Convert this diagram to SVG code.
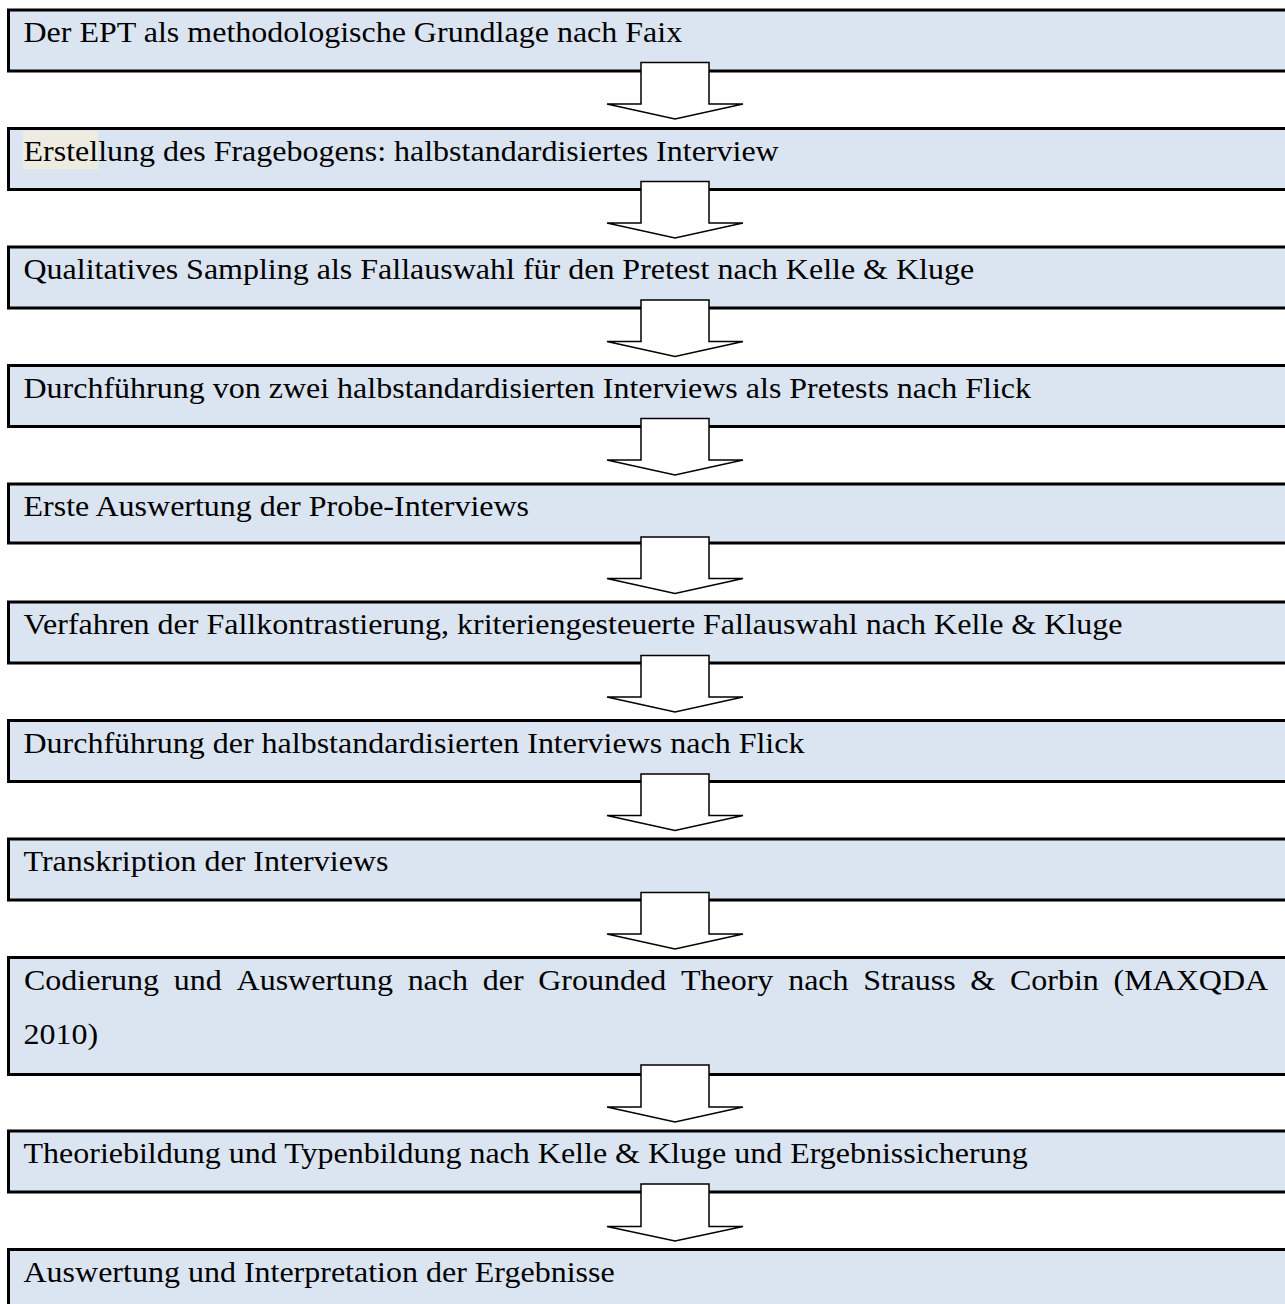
<svg xmlns="http://www.w3.org/2000/svg" width="1285" height="1304" viewBox="0 0 1285 1304">
  <defs>
    <style>
      .box { fill: #DBE5F1; stroke: #000; stroke-width: 3; }
      .arrow { fill: #fff; stroke: #000; stroke-width: 1.5; stroke-linejoin: miter; }
      .lbl { font-family: "Liberation Serif", "Times New Roman", serif; font-size: 29.5px; fill: #000; }
      .mark { fill: #EEECE1; }
    </style>
  </defs>
  <rect x="0" y="0" width="1285" height="1304" fill="#fff"/>

  <!-- process steps; labels are slightly widened with scale(1.085,1) -->
  <g id="step1">
    <rect class="box" x="8.5" y="10" width="1290" height="61"/>
    <text class="lbl" transform="translate(23.5,42) scale(1.085,1)">Der EPT als methodologische Grundlage nach Faix</text>
  </g>
  <g id="step2">
    <rect class="box" x="8.5" y="128.5" width="1290" height="61"/>
    <rect class="mark" x="23" y="131" width="75" height="38"/>
    <text class="lbl" transform="translate(23.5,161) scale(1.085,1)">Erstellung des Fragebogens: halbstandardisiertes Interview</text>
  </g>
  <g id="step3">
    <rect class="box" x="8.5" y="247" width="1290" height="61"/>
    <text class="lbl" transform="translate(23.5,279) scale(1.085,1)">Qualitatives Sampling als Fallauswahl für den Pretest nach Kelle &amp; Kluge</text>
  </g>
  <g id="step4">
    <rect class="box" x="8.5" y="365.5" width="1290" height="61"/>
    <text class="lbl" transform="translate(23.5,397.5) scale(1.085,1)">Durchführung von zwei halbstandardisierten Interviews als Pretests nach Flick</text>
  </g>
  <g id="step5">
    <rect class="box" x="8.5" y="484" width="1290" height="59"/>
    <text class="lbl" transform="translate(23.5,516) scale(1.085,1)">Erste Auswertung der Probe-Interviews</text>
  </g>
  <g id="step6">
    <rect class="box" x="8.5" y="602" width="1290" height="61"/>
    <text class="lbl" transform="translate(23.5,634) scale(1.085,1)">Verfahren der Fallkontrastierung, kriteriengesteuerte Fallauswahl nach Kelle &amp; Kluge</text>
  </g>
  <g id="step7">
    <rect class="box" x="8.5" y="720.5" width="1290" height="61"/>
    <text class="lbl" transform="translate(23.5,752.5) scale(1.085,1)">Durchführung der halbstandardisierten Interviews nach Flick</text>
  </g>
  <g id="step8">
    <rect class="box" x="8.5" y="839" width="1290" height="61"/>
    <text class="lbl" transform="translate(23.5,871) scale(1.085,1)">Transkription der Interviews</text>
  </g>
  <g id="step9">
    <rect class="box" x="8.5" y="957.5" width="1290" height="117"/>
    <!-- justified first line: one tspan per word -->
    <text class="lbl" transform="translate(0,990) scale(1.085,1)">
      <tspan x="22.1">Codierung</tspan>
      <tspan x="160.2">und</tspan>
      <tspan x="218">Auswertung</tspan>
      <tspan x="375.7">nach</tspan>
      <tspan x="444.9">der</tspan>
      <tspan x="496.1">Grounded</tspan>
      <tspan x="627.6">Theory</tspan>
      <tspan x="726.4">nach</tspan>
      <tspan x="795.6">Strauss</tspan>
      <tspan x="894.3">&amp;</tspan>
      <tspan x="930.8">Corbin</tspan>
      <tspan x="1026.3">(MAXQDA</tspan>
    </text>
    <text class="lbl" transform="translate(23.5,1044) scale(1.085,1)">2010)</text>
  </g>
  <g id="step10">
    <rect class="box" x="8.5" y="1131" width="1290" height="61"/>
    <text class="lbl" transform="translate(23.5,1163) scale(1.085,1)">Theoriebildung und Typenbildung nach Kelle &amp; Kluge und Ergebnissicherung</text>
  </g>
  <g id="step11">
    <rect class="box" x="8.5" y="1249.5" width="1290" height="61"/>
    <text class="lbl" transform="translate(23.5,1281.5) scale(1.085,1)">Auswertung und Interpretation der Ergebnisse</text>
  </g>

  <!-- block arrows between steps -->
  <g id="connectors">
    <path class="arrow" d="M641,62.5 H709 V104 H743 L675,119 L607,104 H641 Z"/>
    <path class="arrow" d="M641,181.5 H709 V223 H743 L675,238 L607,223 H641 Z"/>
    <path class="arrow" d="M641,300 H709 V341.5 H743 L675,356.5 L607,341.5 H641 Z"/>
    <path class="arrow" d="M641,418.5 H709 V460 H743 L675,475 L607,460 H641 Z"/>
    <path class="arrow" d="M641,537 H709 V578.5 H743 L675,593.5 L607,578.5 H641 Z"/>
    <path class="arrow" d="M641,655.5 H709 V697 H743 L675,712 L607,697 H641 Z"/>
    <path class="arrow" d="M641,774 H709 V815.5 H743 L675,830.5 L607,815.5 H641 Z"/>
    <path class="arrow" d="M641,892.5 H709 V934 H743 L675,949 L607,934 H641 Z"/>
    <path class="arrow" d="M641,1065 H709 V1107 H743 L675,1122 L607,1107 H641 Z"/>
    <path class="arrow" d="M641,1184 H709 V1226.5 H743 L675,1241 L607,1226.5 H641 Z"/>
  </g>
</svg>
